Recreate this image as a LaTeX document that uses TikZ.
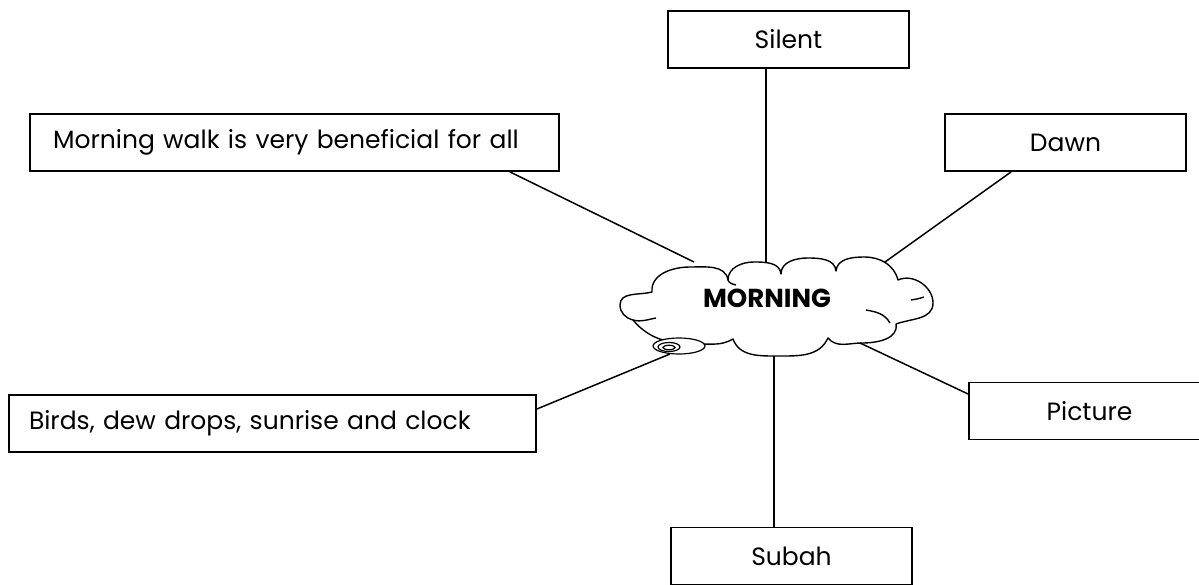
\documentclass[tikz,border=0pt]{standalone}
\usepackage{fontspec}
\setmainfont{Poppins}
\usetikzlibrary{shapes.geometric}
\begin{document}
\begin{tikzpicture}[x=1pt,y=-1pt,
  lbox/.style={draw, line width=1.8pt, minimum height=57pt, minimum width=241pt, inner sep=0pt,
    font=\fontsize{25}{29}\selectfont},
  leftbox/.style={lbox, align=left},
  conn/.style={line width=1.5pt},
  cloudline/.style={line width=1.4pt, line join=round},
  tailring/.style={draw, ellipse, line width=1.2pt, inner sep=0pt}]
\clip (0,0) rectangle (1199,585);
\fill[white] (0,0) rectangle (1199,585);
% boxes
\node[leftbox, text width=483pt, inner xsep=23pt] (mw) at (294.5,142.5) {Morning walk is very beneficial for all};
\node[leftbox, text width=487pt, inner xsep=20pt] (bd) at (272.5,423.5) {Birds, dew drops, sunrise and clock};
\node[lbox] (sil) at (788.5,39.5) {Silent};
\node[lbox] (dw) at (1065.5,142.5) {Dawn};
\node[lbox] (pc) at (1089.5,411) {Picture};
\node[lbox] (sb) at (791.5,556) {Subah};
% cloud
\coordinate (A) at (633,320);
\coordinate (B) at (652,292);
\coordinate (C) at (728,280);
\coordinate (D) at (781,274);
\coordinate (E) at (836,271);
\coordinate (F) at (898,280);
\coordinate (G) at (896,324);
\coordinate (H) at (828,338);
\coordinate (I) at (733,339);
\draw[cloudline, fill=white]
  (B) to[out=95,in=180] (690,267) to[out=0,in=100] (C)
      to[out=90,in=180] (754,262) to[out=0,in=95] (D)
      to[out=90,in=180] (808,258) to[out=0,in=95] (E)
      to[out=85,in=180] (864,257) to[out=0,in=105] (F)
      to[out=25,in=90] (933,303) to[out=-90,in=20] (G)
      to[out=-80,in=0] (862,343) to[out=180,in=-50] (H)
      to[out=-115,in=0] (778,356) to[out=180,in=-70] (I)
      to[out=-150,in=0] (700,344) to[out=180,in=-50] (A)
      to[out=165,in=-90] (620,305) to[out=90,in=195] (B) -- cycle;
% inner folds of the cloud
\draw[cloudline] (A) to[out=-15,in=190] (656,318);
\draw[cloudline] (C) to[out=-70,in=165] (736,285);
\draw[cloudline] (866,310) to[out=-10,in=120] (890,323);
\draw[cloudline] (911,300) to[out=10,in=200] (924,297);
% thought tail
\node[tailring, fill=white, minimum width=52pt, minimum height=16pt] (t1) at (679,346) {};
\node[tailring, minimum width=22pt, minimum height=9pt] (t2) at (669,347) {};
\node[tailring, minimum width=12pt, minimum height=4.5pt] (t3) at (669,347.5) {};
\node[font=\fontsize{26}{30}\selectfont\bfseries] (mt) at (767,298) {MORNING};
% connector ends on the cloud
\coordinate (kmw) at (694,262);
\coordinate (ksl) at (766,262);
\coordinate (kdw) at (885,262);
\coordinate (kpc) at (860,343);
\coordinate (ksb) at (774,356);
\coordinate (kbd) at (670,354);
% connectors
\draw[conn] ([xshift=-50]mw.south east) -- (kmw);
\draw[conn] ([xshift=-22.5]sil.south) -- (ksl);
\draw[conn] ([xshift=67]dw.south west) -- (kdw);
\draw[conn] ([yshift=17]pc.west) -- (kpc);
\draw[conn] ([xshift=-17.5]sb.north) -- (ksb);
\draw[conn] ([yshift=14.5]bd.east) -- (kbd);
\end{tikzpicture}
\end{document}
